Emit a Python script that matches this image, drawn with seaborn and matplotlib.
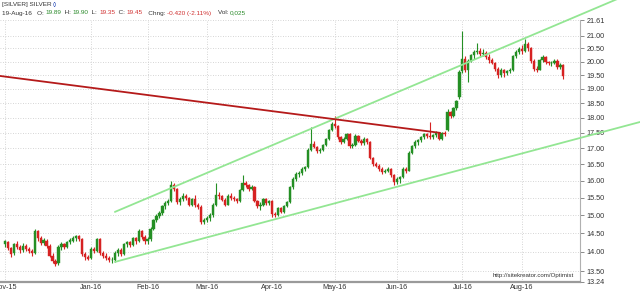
import numpy as np
import pandas as pd
import matplotlib
matplotlib.use("Agg")
import matplotlib.pyplot as plt
import matplotlib.ticker as mticker
import seaborn as sns

# ---------------- data ----------------
holidays = ["2015-11-26", "2015-12-25", "2016-01-01", "2016-01-18",
            "2016-02-15", "2016-03-25", "2016-05-30", "2016-07-04"]
dates = [d for d in pd.bdate_range("2015-11-19", "2016-08-19")
         if d.strftime("%Y-%m-%d") not in holidays]

opens = [14.20, 14.27, 14.10, 13.96, 14.20, 14.13, 14.04,
         14.15, 14.08, 14.02, 13.98, 14.55, 14.38, 14.24, 14.30, 14.16, 13.90, 13.76, 13.70, 14.12, 14.20, 14.12,
         14.26, 14.30, 14.36, 14.42, 14.34, 13.94, 13.86,
         13.84, 14.08, 14.02, 14.34, 13.96, 13.90, 13.84, 13.78, 13.80, 13.98, 14.06, 13.94, 14.20, 14.26, 14.18,
         14.36, 14.28, 14.56, 14.40,
         14.28, 14.34, 14.62, 14.86, 14.98, 15.06, 15.26, 15.34, 15.40, 15.86, 15.76, 15.38, 15.46, 15.56, 15.48,
         15.30, 15.46, 15.28, 15.24, 14.80,
         14.86, 14.92, 15.00, 15.30, 15.58, 15.54, 15.44, 15.30, 15.56, 15.50, 15.46, 15.40, 15.72, 15.92, 15.86,
         15.76, 15.82, 15.40, 15.26, 15.30, 15.46, 15.34,
         15.40, 15.04, 15.00, 15.20, 15.10, 15.26, 15.36, 15.80, 16.06, 16.20, 16.24, 16.34, 16.40, 16.96, 17.14,
         17.04, 16.90, 16.96, 17.10, 17.30, 17.60,
         17.80, 17.72, 17.36, 17.20, 17.30, 17.46, 17.06, 17.10, 17.40, 17.24, 17.16, 17.30, 17.20, 16.70, 16.50,
         16.46, 16.36, 16.26, 16.30, 16.36, 16.16,
         15.96, 16.06, 16.12, 16.36, 16.30, 16.86, 17.06, 17.20, 17.26, 17.36, 17.46, 17.40, 17.36, 17.42, 17.50,
         17.30, 17.50, 17.60, 18.20, 18.06, 18.32, 18.70,
         19.64, 20.10, 19.70, 20.04, 20.24, 20.36, 20.40, 20.28, 20.34, 20.16, 20.06, 19.96, 19.72, 19.50, 19.70,
         19.56, 19.64, 19.70, 20.20, 20.36,
         20.46, 20.40, 20.66, 20.50, 20.04, 19.74, 19.70, 20.06, 20.16, 19.98, 19.94, 19.96, 20.04, 19.80, 19.89]

highs = [14.32, 14.30, 14.14, 14.24, 14.30, 14.18, 14.24,
         14.22, 14.14, 14.08, 14.62, 14.60, 14.42, 14.36, 14.34, 14.20, 13.96, 13.82, 14.18, 14.25, 14.24, 14.30,
         14.36, 14.42, 14.46, 14.46, 14.38, 14.00, 13.92,
         14.12, 14.14, 14.38, 14.38, 14.02, 13.96, 13.90, 13.86, 14.02, 14.10, 14.10, 14.24, 14.30, 14.30, 14.40,
         14.40, 14.62, 14.60, 14.44,
         14.40, 14.66, 14.90, 15.04, 15.12, 15.30, 15.40, 15.46, 16.00, 15.92, 15.78, 15.52, 15.62, 15.60, 15.52,
         15.50, 15.58, 15.34, 15.28, 14.92,
         14.98, 15.06, 15.34, 15.92, 15.66, 15.58, 15.48, 15.60, 15.62, 15.56, 15.50, 15.76, 16.16, 16.00, 15.90,
         15.86, 15.84, 15.44, 15.36, 15.50, 15.48, 15.44,
         15.42, 15.10, 15.24, 15.24, 15.30, 15.40, 15.84, 16.10, 16.26, 16.30, 16.40, 16.46, 17.00, 17.70, 17.24,
         17.08, 17.00, 17.14, 17.34, 17.64, 17.86,
         18.06, 17.76, 17.40, 17.36, 17.50, 17.48, 17.16, 17.46, 17.44, 17.30, 17.36, 17.34, 17.22, 16.74, 16.56,
         16.50, 16.40, 16.36, 16.40, 16.38, 16.20,
         16.10, 16.14, 16.40, 16.42, 16.90, 17.10, 17.26, 17.30, 17.40, 17.50, 17.50, 17.86, 17.46, 17.56, 17.52,
         17.54, 17.56, 18.30, 18.24, 18.36, 18.60, 19.70,
         21.20, 20.20, 20.10, 20.30, 20.44, 20.70, 20.50, 20.48, 20.40, 20.30, 20.14, 20.00, 19.80, 19.76, 19.74,
         19.70, 19.76, 20.26, 20.44, 20.56,
         20.62, 20.86, 20.74, 20.54, 20.08, 19.84, 20.10, 20.24, 20.20, 20.04, 20.02, 20.10, 20.08, 19.94, 19.90]

lows = [14.12, 14.05, 13.88, 13.92, 14.08, 13.98, 14.00,
        14.02, 13.96, 13.90, 13.95, 14.30, 14.18, 14.18, 14.10, 13.86, 13.72, 13.64, 13.66, 14.04, 14.08, 14.10,
        14.20, 14.26, 14.30, 14.28, 13.90, 13.80, 13.78,
        13.82, 13.98, 14.00, 13.92, 13.84, 13.80, 13.74, 13.72, 13.74, 13.90, 13.90, 13.92, 14.12, 14.14, 14.16,
        14.22, 14.26, 14.34, 14.22,
        14.20, 14.30, 14.58, 14.80, 14.92, 15.00, 15.18, 15.28, 15.36, 15.68, 15.32, 15.30, 15.40, 15.42, 15.26,
        15.26, 15.24, 15.18, 14.74, 14.76,
        14.80, 14.84, 14.96, 15.26, 15.46, 15.40, 15.26, 15.28, 15.44, 15.40, 15.34, 15.38, 15.68, 15.80, 15.70,
        15.72, 15.36, 15.20, 15.14, 15.26, 15.30, 15.28,
        14.96, 14.94, 14.98, 15.06, 15.06, 15.22, 15.34, 15.76, 16.00, 16.12, 16.18, 16.28, 16.38, 16.92, 17.00,
        16.86, 16.84, 16.92, 17.06, 17.26, 17.56,
        17.66, 17.30, 17.14, 17.16, 17.26, 17.00, 17.00, 17.08, 17.20, 17.10, 17.12, 17.14, 16.66, 16.44, 16.40,
        16.30, 16.20, 16.22, 16.26, 16.10, 15.86,
        15.90, 15.92, 16.08, 16.24, 16.28, 16.82, 17.00, 17.10, 17.20, 17.30, 17.34, 17.30, 17.30, 17.36, 17.26,
        17.28, 17.40, 17.56, 18.00, 18.02, 18.28, 18.66,
        19.56, 19.60, 19.25, 19.98, 20.10, 20.28, 20.20, 20.22, 20.10, 19.96, 19.90, 19.66, 19.40, 19.44, 19.44,
        19.50, 19.56, 19.66, 20.14, 20.30,
        20.30, 20.36, 20.40, 19.96, 19.66, 19.62, 19.68, 20.00, 19.92, 19.86, 19.82, 19.90, 19.74, 19.72, 19.35]

closes = [14.28, 14.10, 13.95, 14.20, 14.14, 14.04, 14.15,
          14.08, 14.02, 13.97, 14.55, 14.38, 14.24, 14.32, 14.16, 13.90, 13.76, 13.68, 14.14, 14.20, 14.12, 14.26,
          14.32, 14.38, 14.42, 14.34, 13.94, 13.86, 13.82,
          14.08, 14.02, 14.34, 13.96, 13.90, 13.84, 13.78, 13.80, 13.98, 14.06, 13.94, 14.20, 14.26, 14.18, 14.36,
          14.28, 14.56, 14.40, 14.28,
          14.34, 14.62, 14.86, 14.98, 15.06, 15.26, 15.34, 15.40, 15.86, 15.76, 15.38, 15.46, 15.56, 15.48, 15.30,
          15.46, 15.28, 15.24, 14.80, 14.86,
          14.92, 15.00, 15.30, 15.58, 15.54, 15.44, 15.30, 15.56, 15.50, 15.46, 15.40, 15.72, 15.92, 15.86, 15.76,
          15.82, 15.40, 15.26, 15.30, 15.46, 15.34, 15.40,
          15.04, 15.00, 15.20, 15.10, 15.26, 15.36, 15.80, 16.06, 16.20, 16.24, 16.34, 16.40, 16.96, 17.14, 17.04,
          16.90, 16.96, 17.10, 17.30, 17.60, 17.80,
          17.72, 17.36, 17.20, 17.30, 17.46, 17.06, 17.10, 17.40, 17.24, 17.16, 17.30, 17.20, 16.70, 16.50, 16.46,
          16.36, 16.26, 16.30, 16.36, 16.16, 15.96,
          16.06, 16.12, 16.36, 16.30, 16.86, 17.06, 17.20, 17.26, 17.36, 17.46, 17.40, 17.36, 17.42, 17.50, 17.30,
          17.50, 17.46, 18.20, 18.06, 18.32, 18.56, 19.62,
          20.10, 19.70, 20.04, 20.24, 20.36, 20.40, 20.28, 20.34, 20.16, 20.06, 19.96, 19.72, 19.50, 19.70, 19.56,
          19.64, 19.70, 20.20, 20.36, 20.46,
          20.40, 20.66, 20.50, 20.04, 19.74, 19.70, 20.06, 20.16, 19.98, 19.94, 19.96, 20.04, 19.80, 19.87, 19.45]

y_ticks = [13.24, 13.50, 14.00, 14.50, 15.00, 15.50, 16.00, 16.50, 17.00,
           17.50, 18.00, 18.50, 19.00, 19.50, 20.00, 20.50, 21.00, 21.61]

# trend lines: (trading-day index, price) anchor points
upper_x, upper_y = [37, 208.8], [15.09, 22.63]
lower_x, lower_y = [37, 213.8], [13.74, 17.86]
resist_x, resist_y = [-1.7, 146.5], [19.47, 17.50]

# header pieces (text, colour)
header_line1 = [("[SILVER] SILVER ", "#333333"), ("()", "#3355bb")]
header_line2 = [("19-Aug-16   O: ", "#333333"), ("19.89", "#2a8a2a"),
                ("  H: ", "#333333"), ("19.90", "#2a8a2a"),
                ("  L: ", "#333333"), ("19.35", "#d03030"),
                ("  C: ", "#333333"), ("19.45", "#d03030"),
                ("   Chng: ", "#333333"), ("-0.420 (-2.11%)", "#d03030"),
                ("    Vol: ", "#333333"), ("0,025", "#2a8a2a")]

# ---------------- figure ----------------
sns.set_theme(style="white")
plt.rcParams["font.family"] = ["Liberation Sans", "DejaVu Sans"]

W, H = 640, 292
fig = plt.figure(figsize=(W / 100, H / 100), dpi=100, facecolor="white")
ax = fig.add_axes([0, 1 - 281.7 / H, 580 / W, (281.7 - 20.3) / H])
ax.set_facecolor("white")

df = pd.DataFrame({"date": dates, "open": opens, "high": highs,
                   "low": lows, "close": closes})
df["i"] = np.arange(len(df))
up = df["close"] >= df["open"]
GREEN, RED = "#248f24", "#d62222"
colors = np.where(up, GREEN, RED)

ax.vlines(df["i"], df["low"], df["high"], colors=colors, linewidth=0.8, zorder=3)
bottoms = np.minimum(df["open"], df["close"])
heights = np.maximum(np.abs(df["close"] - df["open"]), 0.02)
ax.bar(df["i"], heights, bottom=bottoms, width=0.75, color=colors,
       edgecolor=colors, linewidth=0.3, zorder=4)

tl = pd.DataFrame({
    "x": upper_x + lower_x + resist_x,
    "y": upper_y + lower_y + resist_y,
    "line": ["upper"] * 2 + ["lower"] * 2 + ["resist"] * 2,
})
sns.lineplot(data=tl, x="x", y="y", hue="line", ax=ax, legend=False,
             palette={"upper": "#93e693", "lower": "#93e693", "resist": "#b51a1a"},
             linewidth=1.3, clip_on=False, zorder=5)

ax.set_yscale("log")
ax.set_ylim(13.24, 21.61)
ax.set_xlim(-1.68, 193.6)
ax.set_xlabel("")
ax.set_ylabel("")

ax.yaxis.set_major_locator(mticker.FixedLocator(y_ticks))
ax.yaxis.set_major_formatter(mticker.FixedFormatter([f"{v:.2f}" for v in y_ticks]))
ax.yaxis.set_minor_locator(mticker.NullLocator())
ax.yaxis.tick_right()
ax.tick_params(axis="y", which="major", right=True, left=False, length=3,
               width=0.6, color="#777777", labelsize=5.2, labelcolor="#333333", pad=1.5)

# month ticks: first visible day, then first trading day of each month from Jan
month_idx, month_lab = [0], ["Nov-15"]
for ym in ["2016-01", "2016-02", "2016-03", "2016-04", "2016-05", "2016-06", "2016-07", "2016-08"]:
    k = df.index[df["date"].dt.strftime("%Y-%m") == ym][0]
    month_idx.append(k)
    month_lab.append(df.loc[k, "date"].strftime("%b-%y"))
ax.set_xticks(month_idx)
ax.set_xticklabels(month_lab)
ax.tick_params(axis="x", length=0, labelsize=5.2, labelcolor="#333333", pad=2)

ax.grid(True, which="major", linestyle=(0, (1, 2)), color="#c8c8c8", linewidth=0.6)
for s in ["top", "left"]:
    ax.spines[s].set_visible(False)
ax.spines["bottom"].set_color("#9a9a9a")
ax.spines["bottom"].set_linewidth(1.6)
ax.spines["right"].set_color("#b0b0b0")
ax.spines["right"].set_linewidth(0.8)

ax.text(0.99, 0.015, "http://sitekreator.com/Optimist", transform=ax.transAxes,
        ha="right", va="bottom", fontsize=4.4, color="#333333")

# header, laid out piece by piece
renderer = fig.canvas.get_renderer()

def header_row(pieces, ypx, x0=1.5, size=4.6):
    x = x0
    for s, c in pieces:
        t = fig.text(x / W, 1 - ypx / H, s, color=c, fontsize=size,
                     ha="left", va="center")
        x += t.get_window_extent(renderer=renderer).width

header_row(header_line1, 4.5)
header_row(header_line2, 13)

fig.savefig("out.png", dpi=100, facecolor="white")
